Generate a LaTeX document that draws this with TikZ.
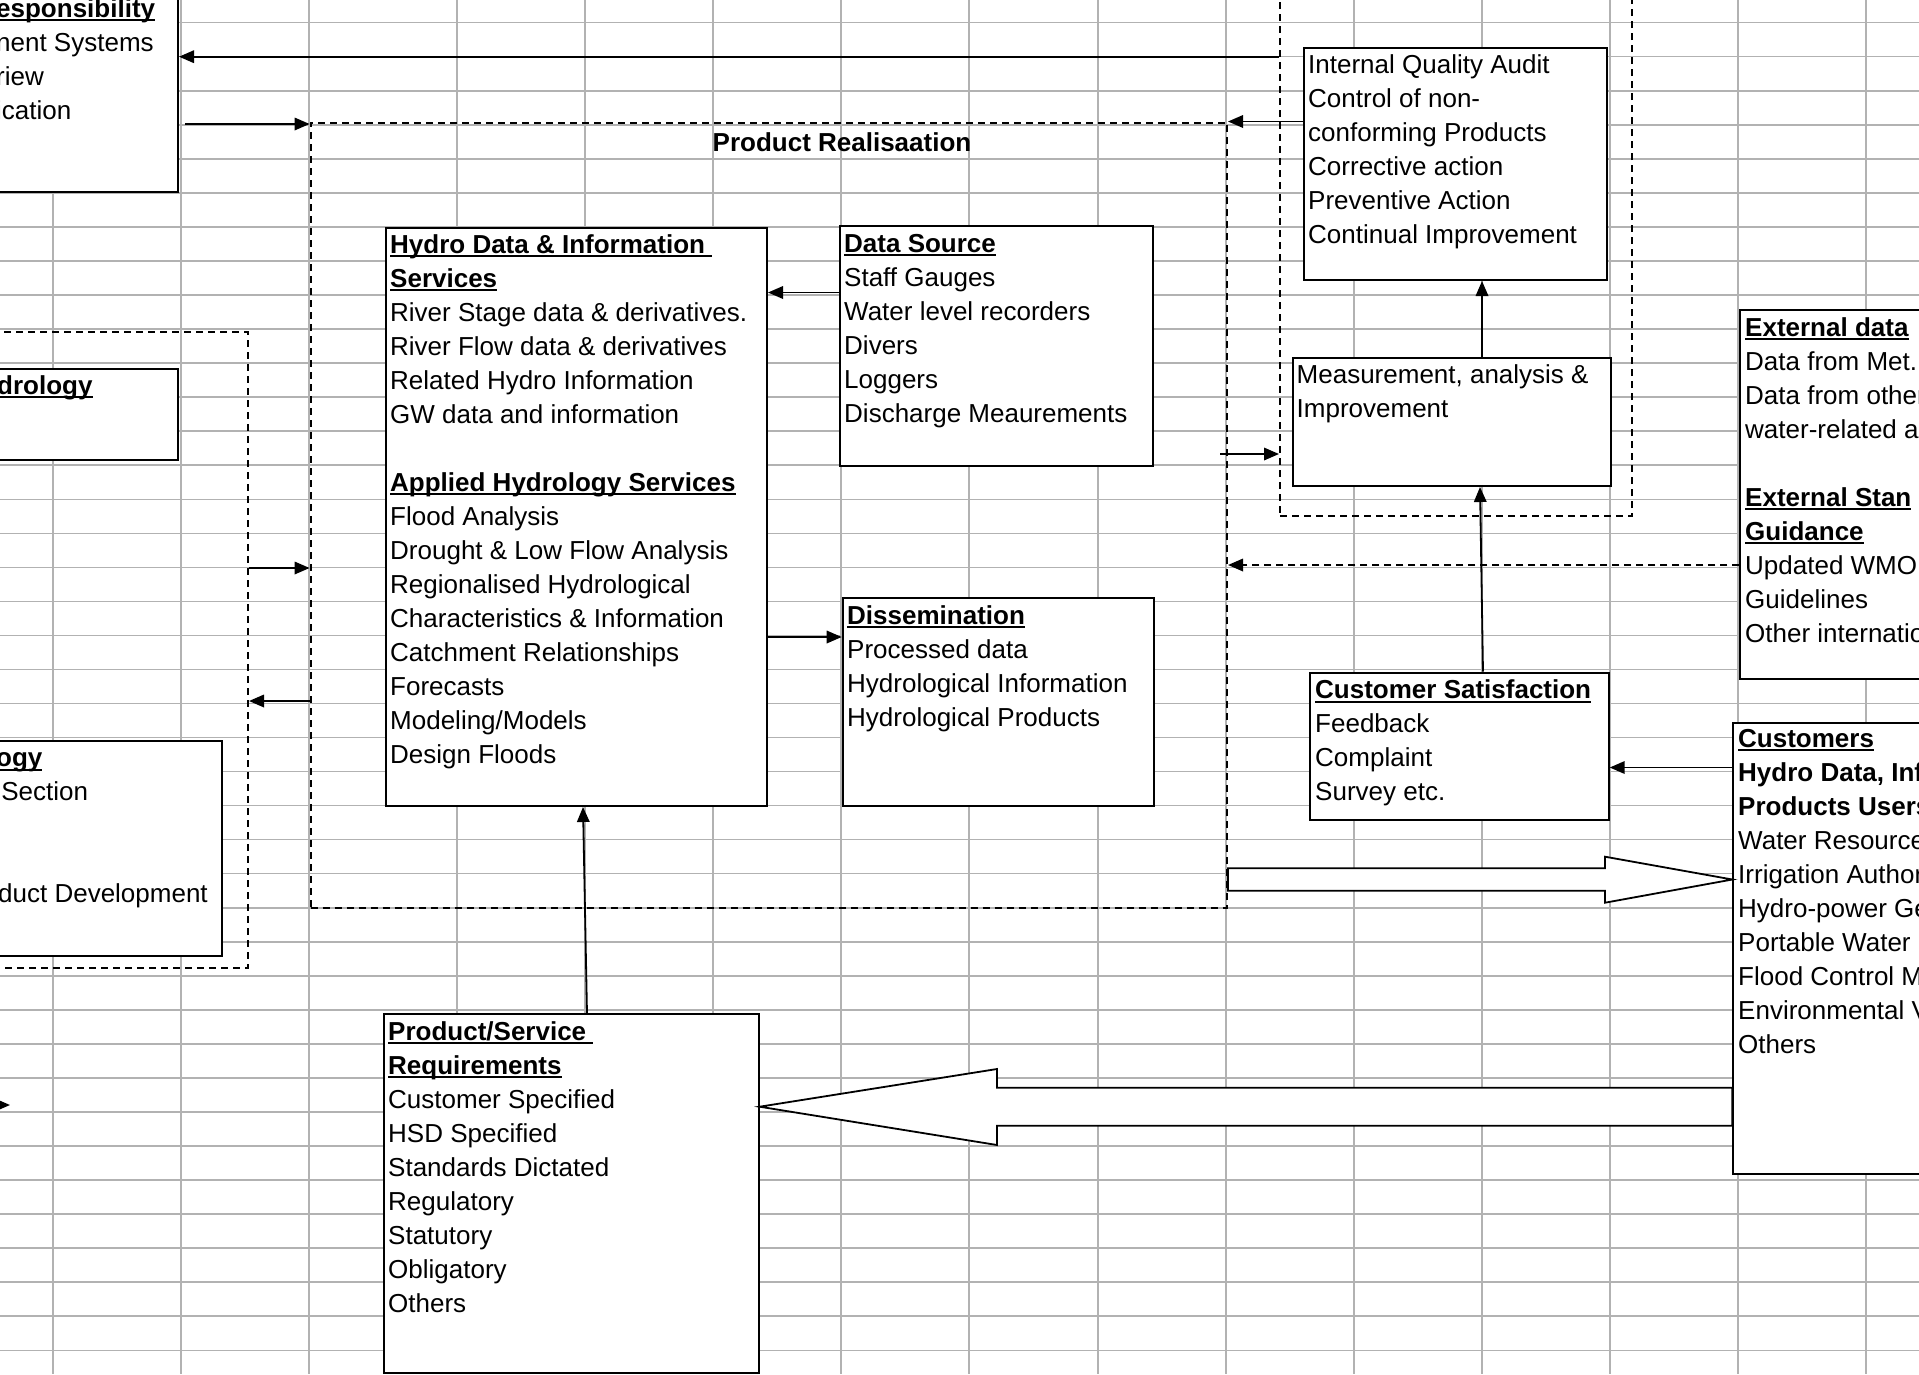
\documentclass[tikz,border=0pt]{standalone}
\usepackage{fontspec}
\setmainfont{Liberation Sans}
\usetikzlibrary{arrows.meta,calc}
\newcommand\hul[1]{\setbox0\hbox{#1}\rlap{\rule[-4pt]{\wd0}{2pt}}\box0}
\newcommand\tlines[3]{\foreach \lineitem [count=\li from 0] in {#3} {\node[txt] at (#1,#2+\li*34.04) {\lineitem};}}
\newcommand\rlines[3]{\foreach \lineitem [count=\li from 0] in {#3} {\node[txtr] at (#1,#2+\li*34.04) {\lineitem};}}
\tikzset{
  tbox/.style={draw, line width=2pt, fill=white, inner sep=0pt, anchor=north west},
  dframe/.style={draw, line width=2pt, dash pattern=on 7pt off 5pt, inner sep=0pt, anchor=north west},
  txt/.style={anchor=base west, inner sep=0pt, font=\fontsize{26}{34}\selectfont},
  txtr/.style={txt, anchor=base east},
  arr/.style={line width=1.8pt, -{Triangle[length=15pt,width=12.5pt]}},
  gridline/.style={line width=1.5pt, gray!60!white},
  hollow/.style={draw, line width=1.8pt, fill=white, line join=miter},
}
\begin{document}
\begin{tikzpicture}[x=1pt,y=-1pt]
\useasboundingbox (0,0) rectangle (1919,1374);
\fill[white] (0,0) rectangle (1919,1374);
% spreadsheet grid
\foreach \x in {53,181,309,457,585,713,841,969,1098,1226,1354,1482,1610,1738,1866}
  \draw[gridline] (\x,0) -- (\x,1374);
\foreach \k in {0,...,39}
  \draw[gridline] (0,22.7+\k*34.04) -- (1919,22.7+\k*34.04);

% dashed frames
\node[dframe, minimum width=916.4pt, minimum height=785.5pt] (pr) at (309.6,121.5) {};
\node[dframe, minimum width=267pt, minimum height=635.5pt] (lf) at (-20,331) {};
\node[dframe, minimum width=352pt, minimum height=535pt] (qf) at (1279,-20) {};
\node[txt, anchor=base, font=\fontsize{26}{34}\selectfont\bfseries] (prt) at (842,151) {Product Realisaation};

% boxes
\node[tbox, minimum width=197pt, minimum height=211pt] (mr) at (-20,-20) {};
\node[tbox, minimum width=197pt, minimum height=90.5pt] (hy) at (-20,368) {};
\node[tbox, minimum width=241pt, minimum height=215.3pt] (ad) at (-20,739.7) {};
\node[tbox, minimum width=381pt, minimum height=578pt] (hydro) at (385,227) {};
\node[tbox, minimum width=313pt, minimum height=240pt] (ds) at (839,225) {};
\node[tbox, minimum width=311.3pt, minimum height=208pt] (diss) at (841.7,597) {};
\node[tbox, minimum width=374.4pt, minimum height=358.7pt] (ps) at (383.3,1013.3) {};
\node[tbox, minimum width=302.7pt, minimum height=232.3pt] (qa) at (1303.3,46.7) {};
\node[tbox, minimum width=318.3pt, minimum height=128.3pt] (meas) at (1291.7,356.7) {};
\node[tbox, minimum width=298.4pt, minimum height=147.3pt] (cs) at (1309.3,671.7) {};
\node[tbox, minimum width=230pt, minimum height=451.6pt] (cust) at (1732.3,721.7) {};
\node[tbox, minimum width=230pt, minimum height=369pt] (ext) at (1739.3,309) {};

% texts cut by the left edge
\tlines{-4}{17.3}{\hul{\bfseries esponsibility},nent Systems,riew,ication}
\tlines{-3}{394}{\hul{\bfseries drology}}
\tlines{-4}{766.7}{\hul{\bfseries ogy}}
\rlines{88.3}{800.7}{Section}
\tlines{-2}{902.9}{duct Development}

\tlines{390}{253}{\hul{\bfseries Hydro Data \& Information\ },\hul{\bfseries Services},River Stage data \& derivatives.,River Flow data \& derivatives,Related Hydro Information,GW data and information,{},\hul{\bfseries Applied Hydrology Services},Flood Analysis,Drought \& Low Flow Analysis,Regionalised Hydrological,Characteristics \& Information,Catchment Relationships,Forecasts,Modeling/Models,Design Floods}
\tlines{844}{252}{\hul{\bfseries Data Source},Staff Gauges,Water level recorders,Divers,Loggers,Discharge Meaurements}
\tlines{847}{624}{\hul{\bfseries Dissemination},Processed data,Hydrological Information,Hydrological Products}
\tlines{388}{1040}{\hul{\bfseries Product/Service\ },\hul{\bfseries Requirements},Customer Specified,HSD Specified,Standards Dictated,Regulatory,Statutory,Obligatory,Others}
\tlines{1308}{73.7}{Internal Quality Audit,Control of non-,conforming Products,Corrective action,Preventive Action,Continual Improvement}
\tlines{1296.5}{383.7}{{Measurement, analysis \&},Improvement}
\tlines{1315}{698.5}{\hul{\bfseries Customer Satisfaction},Feedback,Complaint,Survey etc.}
\tlines{1738}{747}{\hul{\bfseries Customers},{\bfseries Hydro Data, Inf},\bfseries Products Users,Water Resource,Irrigation Author,Hydro-power Ge,Portable Water,Flood Control M,Environmental V,Others}
\tlines{1745}{336}{\hul{\bfseries External data},Data from Met.,Data from other,water-related ag,{},\hul{\bfseries External Stan},\hul{\bfseries Guidance},Updated WMO,Guidelines,Other internatio}

% connectors
\draw[arr] (qf.west |- 0,56.7) -- (mr.east |- 0,56.7);
\draw[arr, shorten <=6pt] (mr.east |- 0,124) -- (pr.west |- 0,124);
\draw[arr] (qa.west |- pr.north) -- (pr.north east);
\draw[arr] (ds.west |- 0,292.5) -- (hydro.east |- 0,292.5);
\draw[arr] (hydro.east |- 0,637) -- (diss.west |- 0,637);
\draw[arr] ($(ps.north west)+(203.7,0)$) -- ($(hydro.south west)+(198,0)$);
\draw[arr] (lf.east |- 0,568) -- (pr.west |- 0,568);
\draw[arr] (pr.west |- 0,701) -- (lf.east |- 0,701);
\draw[arr, shorten <=-8pt] (pr.east |- 0,454) -- (qf.west |- 0,454);
\draw[arr] (meas.north -| 1482,0) -- (qa.south -| 1482,0);
\draw[arr] (cs.north -| 1483,0) -- (meas.south -| 1480,0);
\draw[arr] (cust.west |- 0,767.5) -- (cs.east |- 0,767.5);
\draw[arr, dash pattern=on 7pt off 5pt] (ext.west |- 0,565) -- (pr.east |- 0,565);
\coordinate (la) at (-30,1105);
\coordinate (lt) at (10,1105);
\draw[arr] (la) -- (lt);

% hollow block arrows
\draw[hollow] (ps.east |- 0,1106.7) -- (997,1069) -- (997,1087.7) -- (cust.west |- 0,1087.7)
  -- (cust.west |- 0,1125.7) -- (997,1125.7) -- (997,1145) -- cycle;
\draw[hollow] (pr.east |- 0,868.3) -- (1605,868.3) -- (1605,856.7) -- (cust.west |- 0,879.5)
  -- (1605,902.7) -- (1605,890.7) -- (pr.east |- 0,890.7) -- cycle;
\end{tikzpicture}
\end{document}
